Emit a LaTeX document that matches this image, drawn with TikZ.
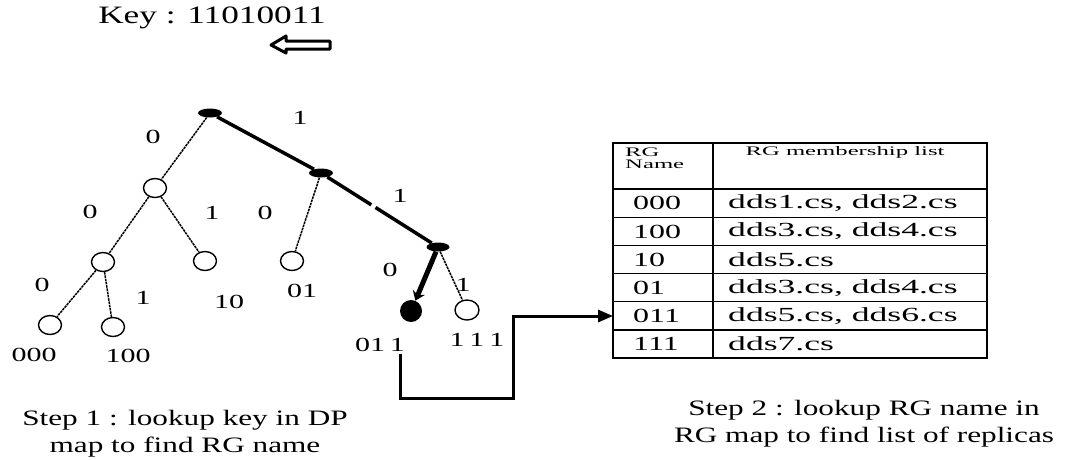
\documentclass[tikz,border=0pt]{standalone}
\usepackage{fontspec}
\setmainfont{Liberation Serif}
\usepackage{graphicx}
\usetikzlibrary{arrows.meta,shapes.geometric}
\newcommand\hsc[2]{\scalebox{#1}[1]{#2}}
\begin{document}
\begin{tikzpicture}[x=1pt,y=-1pt,
  hollow/.style={ellipse,draw,line width=1.4pt,minimum width=23pt,minimum height=19pt,inner sep=0pt},
  blob/.style={ellipse,fill,minimum width=24pt,minimum height=9pt,inner sep=0pt},
  bigblob/.style={circle,fill,minimum size=22pt,inner sep=0pt},
  thinedge/.style={line width=1.5pt,dash pattern=on 2.5pt off 0.8pt},
  thickedge/.style={line width=3.5pt},
  lbl/.style={inner sep=0pt,font=\fontsize{20}{24}\selectfont},
  cell/.style={inner sep=0pt,anchor=west,font=\fontsize{20}{24}\selectfont},
  head/.style={inner sep=0pt,font=\fontsize{13}{15}\selectfont},
  note/.style={inner sep=0pt,align=center,font=\fontsize{22}{27}\selectfont},
  tabline/.style={line width=1.4pt},
  conn/.style={line width=3pt,-{Triangle[length=15pt,width=12pt]}}
]
\useasboundingbox (0,0) rectangle (1067,459);

% key
\node[inner sep=0pt,font=\fontsize{25}{30}\selectfont] (key) at (212,18) {\hsc{1.41}{Key : 11010011}};
\draw[line width=3pt,line join=round,fill=white] (330,41) -- (286,41) -- (286,36) -- (271,45) -- (286,53) -- (286,49) -- (330,49) -- cycle;

% tree nodes
\node[blob] (root) at (210,113) {};
\node[hollow] (L) at (155,188) {};
\node[blob] (R) at (321,173) {};
\node[hollow] (LL) at (103,262) {};
\node[hollow] (LR) at (205,261) {};
\node[hollow] (RL) at (292,261) {};
\node[blob,minimum width=23pt] (RR) at (438,247) {};
\node[hollow] (n000) at (50,325) {};
\node[hollow] (n100) at (113,327) {};
\node[bigblob] (n011) at (411,311) {};
\node[hollow,minimum width=24pt,minimum height=20pt] (n111) at (467,310) {};

% edges
\draw[thinedge] (root) -- (L);
\draw[thickedge] (root) -- (R);
\draw[thinedge] (L) -- (LL);
\draw[thinedge] (L) -- (LR);
\draw[thinedge] (R) -- (RL);
\draw[thickedge,dash pattern=on 52pt off 5pt on 200pt] (R) -- (RR);
\draw[thinedge] (LL) -- (n000);
\draw[thinedge] (LL) -- (n100);
\draw[line width=5pt,-{Stealth[length=9pt,width=13pt]}] (RR) -- (n011);
\draw[thinedge] (RR) -- (n111);

% edge labels
\node[lbl] (e1) at (153,137) {\hsc{1.5}{0}};
\node[lbl] (e2) at (300,118) {\hsc{1.5}{1}};
\node[lbl] (e3) at (90,212) {\hsc{1.5}{0}};
\node[lbl] (e4) at (212,213) {\hsc{1.5}{1}};
\node[lbl] (e5) at (265,213) {\hsc{1.5}{0}};
\node[lbl] (e6) at (400,196) {\hsc{1.5}{1}};
\node[lbl] (e7) at (42,285) {\hsc{1.5}{0}};
\node[lbl] (e8) at (143,298) {\hsc{1.5}{1}};
\node[lbl] (e9) at (390,270) {\hsc{1.5}{0}};
\node[lbl] (e10) at (463,285) {\hsc{1.5}{1}};

% leaf names
\node[lbl] (t10) at (229,302) {\hsc{1.5}{10}};
\node[lbl] (t01) at (302,291) {\hsc{1.5}{01}};
\node[lbl] (t000) at (34,355) {\hsc{1.5}{000}};
\node[lbl] (t100) at (128,356) {\hsc{1.5}{100}};
\node[lbl] (t011) at (380,345) {\hsc{1.5}{01\,1}};
\node[lbl] (t111) at (477,340) {\hsc{1.5}{1\,1\,1}};

% table
\draw[tabline] (613,143) rectangle (987,358);
\draw[tabline] (713,143) -- (713,358);
\foreach \yy in {189,217.2,245.3,273.5,301.7,329.8}
  \draw[tabline] (613,\yy) -- (987,\yy);
\node[head,anchor=west] (hrg) at (625,152) {\hsc{1.9}{RG}};
\node[head,anchor=west] (hname) at (625,164) {\hsc{1.9}{Name}};
\node[head] (hlist) at (845,152) {\hsc{1.9}{RG membership list}};

\node[cell] (a1) at (633,203) {\hsc{1.6}{000}};
\node[cell] (a2) at (633,231.5) {\hsc{1.6}{100}};
\node[cell] (a3) at (633,259.6) {\hsc{1.6}{10}};
\node[cell] (a4) at (633,287.8) {\hsc{1.6}{01}};
\node[cell] (a5) at (633,316) {\hsc{1.6}{011}};
\node[cell] (a6) at (633,344) {\hsc{1.6}{111}};
\node[cell] (b1) at (728,203) {\hsc{1.78}{dds1.cs, dds2.cs}};
\node[cell] (b2) at (728,231.5) {\hsc{1.78}{dds3.cs, dds4.cs}};
\node[cell] (b3) at (728,259.6) {\hsc{1.78}{dds5.cs}};
\node[cell] (b4) at (728,287.8) {\hsc{1.78}{dds3.cs, dds4.cs}};
\node[cell] (b5) at (728,316) {\hsc{1.78}{dds5.cs, dds6.cs}};
\node[cell] (b6) at (728,344) {\hsc{1.78}{dds7.cs}};

% connector
\coordinate (cs) at (400,354);
\coordinate (cb) at (513,398);
\coordinate (tin) at (613,316);
\draw[conn] (cs) |- (cb) |- (tin);

% notes
\node[note] (s1) at (185,434) {\hsc{1.42}{\begin{tabular}{@{}c@{}}Step 1 : lookup key in DP\\map to find RG name\end{tabular}}};
\node[note] (s2) at (864,424) {\hsc{1.42}{\begin{tabular}{@{}c@{}}Step 2 : lookup RG name in\\RG map to find list of replicas\end{tabular}}};
\end{tikzpicture}
\end{document}
